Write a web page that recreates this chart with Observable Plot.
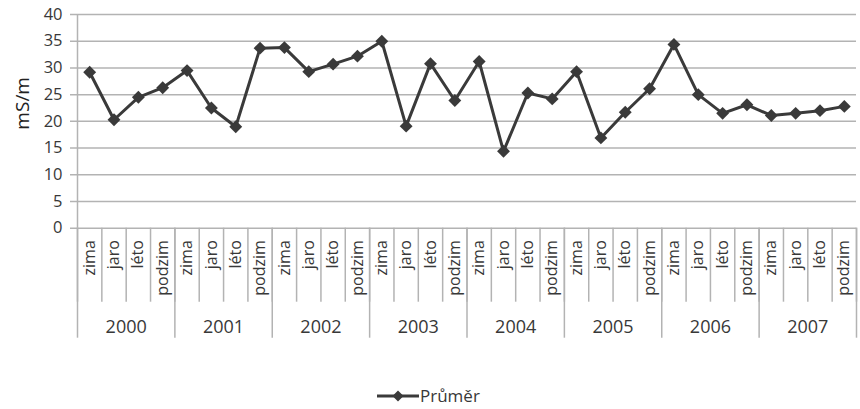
<!DOCTYPE html>
<html>
<head>
<meta charset="utf-8">
<script src="https://cdn.jsdelivr.net/npm/d3@7"></script>
<script src="https://cdn.jsdelivr.net/npm/@observablehq/plot@0.6"></script>
<style>
  body { margin: 0; background: #fff; font-family: "Open Sans", sans-serif; }
  #wrap { position: relative; width: 860px; height: 409px; }
  #legend { position: absolute; left: 376px; top: 384px; display: flex; align-items: center; color: #383838; font-size: 17px; }
  #legend svg { display: block; }
</style>
</head>
<body>
<div id="wrap">
  <div id="chart"></div>
  <div id="legend"></div>
</div>
<script>
// Seasonal mean conductivity, 2000–2007
const years = [2000, 2001, 2002, 2003, 2004, 2005, 2006, 2007];
const seasons = ["zima", "jaro", "léto", "podzim"];
const values = [
  29.2, 20.3, 24.5, 26.3,
  29.5, 22.5, 19.0, 33.7,
  33.8, 29.3, 30.7, 32.2,
  35.0, 19.1, 30.8, 23.9,
  31.2, 14.4, 25.3, 24.2,
  29.3, 16.9, 21.7, 26.1,
  34.4, 25.0, 21.5, 23.1,
  21.1, 21.5, 22.0, 22.8
];
const yTicks = [0, 5, 10, 15, 20, 25, 30, 35, 40];
const seriesName = "Průměr";
const unitLabel = "mS/m";

const rows = values.map((v, i) => ({
  pos: i + 0.5,
  value: v,
  season: seasons[i % 4],
  year: years[Math.floor(i / 4)]
}));
const seasonBounds = d3.range(values.length + 1);
const yearBounds = d3.range(0, values.length + 1, 4);

const lineColor = "#3a3a3a";
const gridColor = "#b3b3b3";
const textColor = "#383838";

const chart = Plot.plot({
  width: 860,
  height: 360,
  marginLeft: 77,
  marginRight: 4,
  marginTop: 14,
  marginBottom: 132.3,
  style: { fontFamily: "Open Sans, sans-serif", fontSize: "16px", color: textColor, background: "#fff" },
  x: { type: "linear", domain: [0, values.length], axis: null },
  y: { domain: [0, 40], axis: null },
  marks: [
    Plot.ruleY(yTicks, { stroke: gridColor, strokeWidth: 1.5, insetLeft: -7 }),
    Plot.ruleX([0], { stroke: gridColor, strokeWidth: 1.5 }),
    Plot.axisY({ ticks: yTicks, tickSize: 0, tickPadding: 15, fontSize: 16.5, label: null }),
    Plot.axisX({ ticks: seasonBounds, tickSize: 74, tickFormat: () => "", stroke: gridColor, strokeWidth: 1.5, label: null }),
    Plot.axisX({ ticks: yearBounds, tickSize: 110, tickFormat: () => "", stroke: gridColor, strokeWidth: 1.5, label: null }),
    Plot.text(rows, { x: "pos", frameAnchor: "bottom", dy: 12, text: "season", rotate: -90, textAnchor: "end", lineAnchor: "middle", fontSize: 16, fill: textColor }),
    Plot.text(years, { x: (d, i) => i * 4 + 2, frameAnchor: "bottom", dy: 99, text: d => String(d), textAnchor: "middle", lineAnchor: "middle", fontSize: 18, fill: textColor }),
    Plot.text([unitLabel], { frameAnchor: "left", dx: -55, dy: -18, rotate: -90, textAnchor: "middle", lineAnchor: "middle", fontSize: 19, fill: "#222" }),
    Plot.line(rows, { x: "pos", y: "value", stroke: lineColor, strokeWidth: 3 }),
    Plot.dot(rows, { x: "pos", y: "value", symbol: "diamond2", r: 5.8, fill: lineColor, stroke: "none" })
  ]
});
document.getElementById("chart").appendChild(chart);

// Legend: line with diamond marker and series name
const legend = document.getElementById("legend");
legend.innerHTML =
  `<svg width="44" height="16"><line x1="1" x2="43" y1="8" y2="8" stroke="${lineColor}" stroke-width="3"/>` +
  `<path d="M22,2.5L27.5,8L22,13.5L16.5,8Z" fill="${lineColor}"/></svg>` +
  `<span>${seriesName}</span>`;
</script>
</body>
</html>
